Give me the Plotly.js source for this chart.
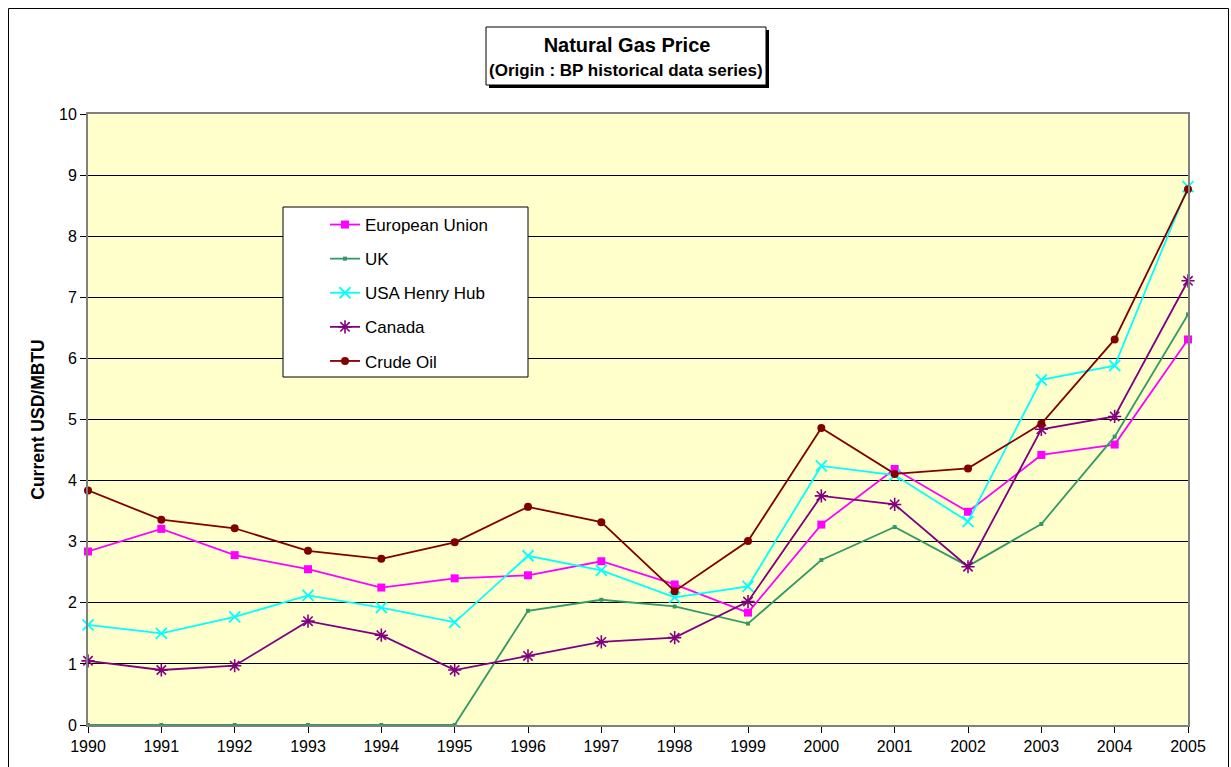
<!DOCTYPE html>
<html>
<head>
<meta charset="utf-8">
<script src="https://cdn.plot.ly/plotly-3.0.1.min.js"></script>
<style>
html,body{margin:0;padding:0;background:#ffffff;}
#chart{width:1231px;height:767px;}
</style>
</head>
<body>
<div id="chart"></div>
<script>
// ---- data ----
var years = [1990,1991,1992,1993,1994,1995,1996,1997,1998,1999,2000,2001,2002,2003,2004,2005];
var yearLabels = years.map(String);
var seriesNames = ['European Union','UK','USA Henry Hub','Canada','Crude Oil'];
var euValues     = [2.84,3.21,2.78,2.55,2.25,2.40,2.45,2.68,2.30,1.84,3.28,4.19,3.49,4.42,4.59,6.31];
var ukValues     = [0,0,0,0,0,0,1.87,2.05,1.94,1.66,2.70,3.24,2.60,3.29,4.72,6.72];
var usaValues    = [1.64,1.50,1.77,2.12,1.92,1.68,2.77,2.53,2.09,2.27,4.24,4.09,3.33,5.65,5.88,8.81];
var canadaValues = [1.05,0.90,0.97,1.70,1.47,0.90,1.13,1.36,1.43,2.02,3.75,3.61,2.59,4.84,5.05,7.27];
var crudeValues  = [3.84,3.36,3.22,2.85,2.72,2.99,3.57,3.32,2.19,3.01,4.86,4.11,4.20,4.93,6.31,8.77];
var yTickValues  = [0,1,2,3,4,5,6,7,8,9,10];

var font = 'Arial, "Liberation Sans", sans-serif';

function mk(name, vals, color, symbol, size, lineW) {
  return {
    type: 'scatter', mode: 'lines+markers', x: years, y: vals, name: name,
    legendgroup: name, cliponaxis: false,
    line: {color: color, width: 1.8},
    marker: {color: color, symbol: symbol, size: size, line: {color: color, width: lineW}}
  };
}

var traces = [
  mk(seriesNames[0], euValues, '#FF00FF', 'square', 8, 0),
  mk(seriesNames[1], ukValues, '#339966', 'square', 4, 0),
  mk(seriesNames[2], usaValues, '#00FFFF', 'x-thin-open', 11, 1.8),
  mk(seriesNames[3], canadaValues, '#800080', 'asterisk-open', 11, 1.6),
  mk(seriesNames[4], crudeValues, '#800000', 'circle', 8, 0)
];

// paper-coordinate helpers (plot area: x 88..1188 px, y 114..725 px)
function px(x){ return (x - 88) / 1100; }
function py(y){ return (725 - y) / 611; }

var layout = {
  width: 1231, height: 767,
  margin: {l: 88, r: 43, t: 114, b: 42},
  paper_bgcolor: '#ffffff',
  plot_bgcolor: '#FFFFCC',
  font: {family: font, color: '#000000', size: 16},
  showlegend: true,
  title: {
    text: '<b>Natural Gas Price</b>',
    font: {family: font, size: 20, color: '#000'},
    x: 627/1231, xanchor: 'center', xref: 'container',
    y: 1 - 45/767, yanchor: 'middle', yref: 'container'
  },
  xaxis: {
    range: [1990, 2005], tickmode: 'array', tickvals: years, ticktext: yearLabels,
    showgrid: false, zeroline: false,
    showline: true, linecolor: '#808080', linewidth: 2, mirror: true,
    ticks: 'outside', ticklen: 6, tickcolor: '#000', tickwidth: 1,
    tickfont: {family: font, size: 16, color: '#000'}, fixedrange: true
  },
  yaxis: {
    range: [0, 10], tickmode: 'array', tickvals: yTickValues,
    showgrid: true, gridcolor: '#000000', gridwidth: 1, zeroline: false,
    showline: true, linecolor: '#808080', linewidth: 2, mirror: true,
    ticks: 'outside', ticklen: 6, tickcolor: '#000', tickwidth: 1,
    tickfont: {family: font, size: 16, color: '#000'},
    title: {text: '<b>Current USD/MBTU</b>', font: {family: font, size: 17.5, color: '#000'}, standoff: 10},
    fixedrange: true
  },
  legend: {
    x: px(325), y: py(207), xanchor: 'left', yanchor: 'top',
    bgcolor: 'rgba(0,0,0,0)', borderwidth: 0,
    font: {family: font, size: 17, color: '#000'},
    tracegroupgap: 9, itemwidth: 30
  },
  annotations: [{
    text: '<b>(Origin : BP historical data series)</b>',
    xref: 'paper', yref: 'paper', x: px(626), y: py(70),
    xanchor: 'center', yanchor: 'middle', showarrow: false,
    font: {family: font, size: 17, color: '#000'}
  }],
  shapes: [
    // outer chart frame
    {type: 'rect', xref: 'paper', yref: 'paper', x0: px(8.5), x1: px(1228.5), y0: py(780), y1: py(8.5),
     line: {color: '#000', width: 1}, fillcolor: 'rgba(0,0,0,0)', layer: 'below'},
    // title box shadow
    {type: 'rect', xref: 'paper', yref: 'paper', x0: px(489), x1: px(769), y0: py(88), y1: py(30),
     line: {width: 0}, fillcolor: '#000', layer: 'above'},
    // title box
    {type: 'rect', xref: 'paper', yref: 'paper', x0: px(486), x1: px(766), y0: py(85), y1: py(27),
     line: {color: '#000', width: 1}, fillcolor: '#fff', layer: 'above'},
    // legend box
    {type: 'rect', xref: 'paper', yref: 'paper', x0: px(283), x1: px(528), y0: py(377), y1: py(207),
     line: {color: '#000', width: 1}, fillcolor: '#fff', layer: 'above'}
  ]
};

Plotly.newPlot('chart', traces, layout, {displayModeBar: false, staticPlot: true});
</script>
</body>
</html>
